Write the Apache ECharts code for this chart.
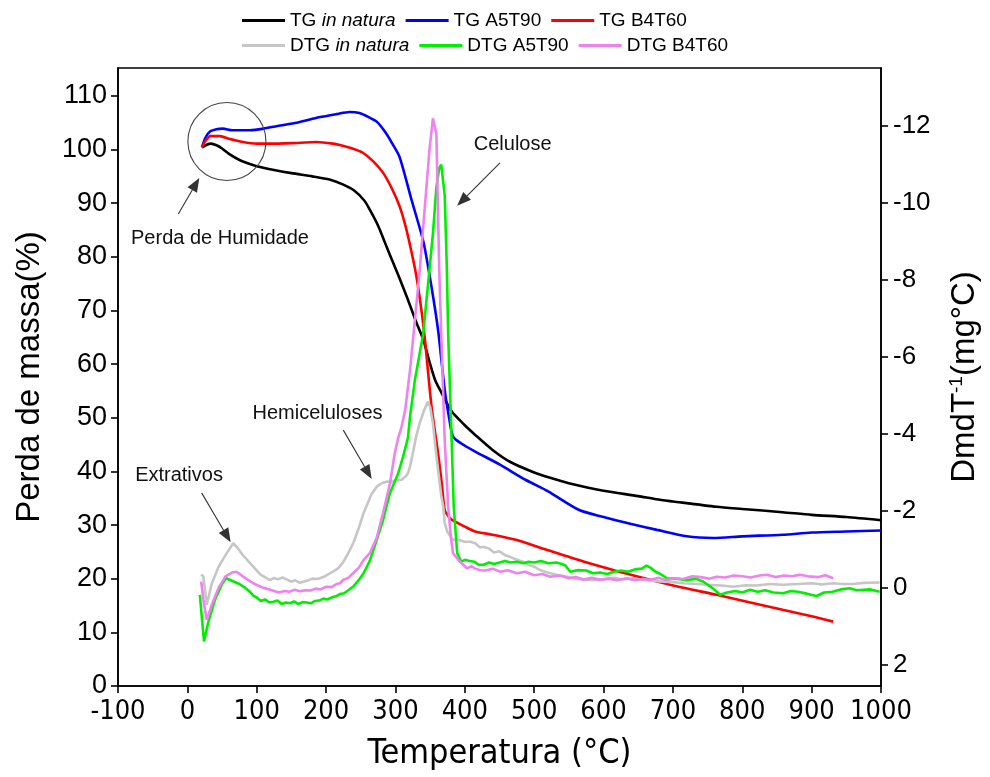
<!DOCTYPE html>
<html>
<head>
<meta charset="utf-8">
<script src="https://cdn.jsdelivr.net/npm/echarts@6/dist/echarts.min.js"></script>
<style>
  html, body { margin: 0; padding: 0; background: #fff; }
  #chart { width: 990px; height: 777px; }
</style>
</head>
<body>
<div id="chart"></div>
<script>
// Thermogravimetric (TG) and derivative (DTG) curves of the three samples.
const FONT = '"Liberation Sans", Arial, sans-serif';
const NARROW = '"Liberation Sans Narrow", "DejaVu Sans Condensed", "Liberation Sans", sans-serif';

const massTicks = [0, 10, 20, 30, 40, 50, 60, 70, 80, 90, 100, 110];
const dtgTicks = [-12, -10, -8, -6, -4, -2, 0, 2];

// TG curves: [temperature °C, mass %]
const tgInNatura = [[21,100.4],[28,100.9],[34,101.1],[42,100.8],[50,100.2],[60,99.2],[76,98.0],[90,97.3],[100,96.9],[125,96.2],[150,95.6],[180,95.0],[205,94.4],[224,93.5],[240,92.4],[255,90.5],[263,88.8],[275,85.8],[285,82.6],[295,79.4],[305,76.3],[318,72.0],[330,67.8],[340,64.6],[350,60.0],[357,57.1],[365,55.0],[381,51.2],[400,48.6],[415,46.8],[440,44.0],[465,41.8],[500,39.8],[523,38.8],[550,37.8],[600,36.4],[650,35.4],[676,34.8],[700,34.4],[763,33.4],[800,33.0],[858,32.4],[900,31.9],[950,31.5],[1000,30.9]];
const tgA5T90 = [[21,100.4],[26,102.2],[33,103.4],[42,103.8],[51,103.9],[65,103.6],[90,103.6],[110,103.9],[130,104.4],[158,105.0],[190,106.0],[215,106.6],[234,107.0],[248,106.8],[262,106.0],[273,105.2],[285,103.3],[295,101.2],[306,98.6],[323,90.7],[340,83.0],[347,78.2],[355,72.0],[362,65.8],[371,55.2],[378,49.5],[383,46.5],[395,45.2],[415,43.7],[450,41.3],[488,38.4],[520,36.3],[565,32.8],[600,31.5],[640,30.2],[677,29.1],[720,27.9],[758,27.6],[800,27.9],[858,28.2],[900,28.6],[950,28.8],[1000,29.0]];
const tgB4T60 = [[21,100.4],[26,101.6],[33,102.5],[47,102.5],[60,102.0],[80,101.4],[100,101.1],[119,101.1],[150,101.2],[186,101.4],[210,101.1],[224,100.7],[240,100.1],[253,99.4],[268,97.8],[282,95.7],[295,92.7],[306,89.4],[315,85.5],[323,81.0],[330,76.5],[338,69.5],[343,63.9],[352,52.1],[362,42.8],[367,37.5],[371,32.8],[376,31.7],[381,31.0],[400,29.7],[415,28.8],[440,28.2],[475,27.2],[520,25.3],[571,23.2],[620,21.4],[667,19.8],[715,18.3],[763,17.0],[810,15.6],[858,14.2],[900,13.0],[931,12.0]];

// DTG curves: [temperature °C, dm/dT]
const dtgInNatura = [[20,-0.35],[23,-0.29],[28,0.44],[35,-0.1],[45,-0.55],[55,-0.85],[66,-1.16],[72,-1.05],[80,-0.85],[95,-0.55],[105,-0.35],[119,-0.2],[125,-0.26],[130,-0.22],[137,-0.27],[143,-0.22],[150,-0.16],[155,-0.2],[162,-0.13],[167,-0.16],[175,-0.2],[180,-0.24],[188,-0.23],[196,-0.28],[203,-0.35],[210,-0.42],[218,-0.52],[225,-0.68],[232,-0.9],[240,-1.2],[247,-1.55],[254,-1.94],[260,-2.2],[265,-2.42],[273,-2.63],[280,-2.72],[287,-2.76],[295,-2.76],[300,-2.8],[309,-2.81],[315,-2.9],[318,-2.98],[321,-3.15],[325,-3.5],[330,-3.95],[335,-4.28],[341,-4.6],[347,-4.84],[350,-4.7],[354,-4.28],[358,-3.6],[362,-2.98],[366,-2.4],[369,-2.1],[371,-1.68],[375,-1.45],[383,-1.25],[390,-1.25],[400,-1.2],[408,-1.2],[415,-1.16],[422,-1.05],[427,-1.07],[435,-1.02],[442,-0.92],[450,-0.95],[458,-0.85],[466,-0.8],[475,-0.73],[484,-0.68],[492,-0.6],[500,-0.55],[510,-0.45],[523,-0.38],[535,-0.33],[550,-0.28],[560,-0.24],[571,-0.21],[585,-0.2],[600,-0.22],[615,-0.26],[628,-0.22],[643,-0.25],[660,-0.2],[680,-0.17],[700,-0.15],[715,-0.12],[735,-0.1],[750,-0.08],[770,-0.06],[787,-0.03],[805,-0.07],[820,-0.06],[840,-0.1],[859,-0.08],[880,-0.1],[900,-0.12],[915,-0.09],[931,-0.12],[945,-0.1],[960,-0.1],[975,-0.13],[998,-0.14]];
const dtgA5T90 = [[18,0.18],[21,0.8],[24,1.39],[30,0.9],[40,0.3],[50,-0.1],[56,-0.25],[65,-0.18],[75,-0.1],[82,-0.02],[90,0.1],[95,0.2],[100,0.25],[106,0.34],[112,0.3],[118,0.38],[124,0.36],[130,0.33],[136,0.42],[142,0.38],[148,0.4],[154,0.35],[160,0.42],[166,0.37],[172,0.38],[178,0.4],[184,0.34],[190,0.33],[196,0.28],[202,0.3],[208,0.25],[214,0.22],[220,0.16],[226,0.14],[232,0.06],[240,-0.05],[247,-0.2],[254,-0.38],[263,-0.7],[273,-1.25],[282,-1.75],[292,-2.46],[298,-2.72],[304,-2.98],[311,-3.41],[318,-3.9],[321,-4.45],[328,-5.4],[334,-6.0],[340,-6.6],[347,-7.9],[354,-9.2],[359,-10.4],[363,-10.9],[366,-11.0],[371,-10.2],[374,-8.35],[376,-6.6],[381,-3.84],[384,-2.11],[389,-0.9],[395,-0.68],[400,-0.73],[407,-0.7],[414,-0.68],[420,-0.6],[427,-0.6],[435,-0.66],[442,-0.62],[450,-0.66],[458,-0.7],[466,-0.66],[475,-0.68],[485,-0.64],[492,-0.68],[500,-0.66],[510,-0.7],[520,-0.64],[532,-0.66],[540,-0.62],[545,-0.58],[552,-0.42],[562,-0.46],[575,-0.45],[585,-0.38],[595,-0.4],[605,-0.36],[615,-0.42],[625,-0.45],[635,-0.42],[645,-0.48],[655,-0.5],[662,-0.58],[668,-0.52],[675,-0.42],[683,-0.35],[691,-0.25],[705,-0.24],[720,-0.2],[733,-0.24],[744,-0.16],[755,-0.02],[762,0.08],[768,0.18],[778,0.12],[790,0.08],[800,0.12],[811,0.05],[822,0.1],[833,0.06],[845,0.12],[859,0.14],[870,0.08],[880,0.1],[893,0.15],[907,0.21],[918,0.12],[930,0.1],[942,0.04],[955,0.01],[965,0.06],[975,0.05],[985,0.04],[998,0.1]];
const dtgB4T60 = [[20,-0.16],[23,0.3],[28,0.83],[35,0.45],[45,0.0],[55,-0.3],[65,-0.4],[71,-0.42],[80,-0.3],[88,-0.2],[95,-0.12],[102,-0.06],[110,0.0],[118,0.04],[125,0.08],[132,0.12],[140,0.08],[147,0.1],[155,0.05],[162,0.09],[170,0.06],[178,0.07],[185,0.02],[192,0.04],[200,-0.03],[208,-0.02],[215,-0.1],[220,-0.12],[225,-0.21],[232,-0.26],[240,-0.4],[247,-0.52],[254,-0.72],[263,-0.9],[273,-1.3],[282,-1.94],[292,-2.7],[299,-3.5],[304,-3.9],[309,-4.2],[314,-4.62],[321,-5.66],[328,-6.96],[335,-8.26],[342,-9.82],[349,-11.38],[354,-12.2],[359,-11.8],[361,-10.1],[363,-8.35],[366,-6.6],[371,-3.84],[376,-2.11],[380,-1.3],[383,-0.9],[392,-0.7],[403,-0.51],[410,-0.56],[415,-0.5],[422,-0.46],[430,-0.45],[440,-0.5],[451,-0.42],[462,-0.46],[475,-0.38],[487,-0.42],[500,-0.33],[512,-0.36],[523,-0.29],[537,-0.32],[550,-0.25],[560,-0.28],[571,-0.22],[583,-0.26],[595,-0.21],[607,-0.24],[620,-0.2],[633,-0.25],[645,-0.2],[657,-0.23],[667,-0.21],[680,-0.26],[690,-0.2],[703,-0.25],[715,-0.23],[728,-0.3],[740,-0.28],[752,-0.24],[763,-0.29],[775,-0.27],[788,-0.32],[800,-0.3],[812,-0.27],[825,-0.32],[835,-0.34],[848,-0.28],[860,-0.32],[872,-0.3],[883,-0.34],[895,-0.3],[910,-0.28],[920,-0.33],[931,-0.25]];

// Annotation anchors in [temperature, mass %]
const moistureCircle = [57, 101.5];
const notes = [
  { text: 'Perda de Humidade', at: [47, 83.5], from: [-13, 88.0], to: [17.2, 94.7] },
  { text: 'Celulose', at: [469, 100.9], from: [450.7, 97.5], to: [389, 89.5] },
  { text: 'Hemiceluloses', at: [187.6, 50.8], from: [224.8, 47.7], to: [265.7, 38.6] },
  { text: 'Extrativos', at: [-12, 39.3], from: [20.6, 36.0], to: [62.4, 26.8] }
];

const chart = echarts.init(document.getElementById('chart'), null, { renderer: 'canvas' });

function tgSeries(name, data, color) {
  return { name, type: 'line', data, yAxisIndex: 0, symbol: 'none', smooth: 0.25,
    lineStyle: { color, width: 2.6 }, itemStyle: { color }, z: 2 };
}
function dtgSeries(name, data, color) {
  return { name, type: 'line', data, yAxisIndex: 1, symbol: 'none', smooth: false,
    lineStyle: { color, width: 2.6 }, itemStyle: { color }, z: 3 };
}

// Two legend rows; the key is a short thick bar in each series colour
function legendRow(top, names) {
  return {
    orient: 'horizontal', left: 242, top, itemWidth: 43, itemHeight: 3, itemGap: 10,
    icon: 'rect', padding: 0, data: names,
    textStyle: { fontFamily: FONT, fontSize: 19, color: '#000',
      rich: { i: { fontFamily: FONT, fontSize: 19, fontStyle: 'italic', color: '#000' } } },
    formatter: (n) => n.replace('in natura', '{i|in natura}')
  };
}

const axisLineStyle = { color: '#000', width: 1.6 };

chart.setOption({
  animation: false,
  backgroundColor: '#fff',
  textStyle: { fontFamily: FONT },
  grid: { left: 118, right: 109, top: 68, bottom: 91, show: true, borderColor: '#000', borderWidth: 1.6 },
  legend: [
    legendRow(11, ['TG in natura', 'TG A5T90', 'TG B4T60']),
    legendRow(36, ['DTG in natura', 'DTG A5T90', 'DTG B4T60'])
  ],
  xAxis: {
    type: 'value', min: -100, max: 1000, interval: 100,
    name: 'Temperatura (°C)', nameLocation: 'middle', nameGap: 51,
    nameTextStyle: { fontFamily: NARROW, fontSize: 34, color: '#000' },
    axisLine: { show: true, onZero: false, lineStyle: axisLineStyle },
    axisTick: { show: true, length: 7, lineStyle: axisLineStyle },
    axisLabel: { fontFamily: NARROW, fontSize: 27, color: '#000', margin: 12, formatter: (v) => String(v) },
    splitLine: { show: false }
  },
  yAxis: [
    {
      type: 'value', min: 0, max: 115.2, position: 'left',
      name: 'Perda de massa(%)', nameLocation: 'middle', nameGap: 72,
      nameTextStyle: { fontFamily: FONT, fontSize: 33, color: '#000' },
      axisLine: { show: true, onZero: false, lineStyle: axisLineStyle },
      axisTick: { show: true, length: 7, lineStyle: axisLineStyle, customValues: massTicks },
      axisLabel: { fontFamily: FONT, fontSize: 27, color: '#000', margin: 11, customValues: massTicks },
      splitLine: { show: false }
    },
    {
      type: 'value', min: -13.51, max: 2.55, inverse: true, position: 'right',
      name: '{a|DmdT}{s|-1}{a|(mg°C)}', nameLocation: 'middle', nameGap: 66,
      nameTextStyle: { color: '#000',
        rich: { a: { fontFamily: FONT, fontSize: 33, color: '#000', lineHeight: 36 },
                s: { fontFamily: FONT, fontSize: 19, color: '#000', lineHeight: 36, verticalAlign: 'top', padding: [0, 0, 12, 0] } } },
      axisLine: { show: true, onZero: false, lineStyle: axisLineStyle },
      axisTick: { show: true, length: 7, lineStyle: axisLineStyle, customValues: dtgTicks },
      axisLabel: { fontFamily: FONT, fontSize: 26, color: '#000', margin: 12, customValues: dtgTicks },
      splitLine: { show: false }
    }
  ],
  series: [
    tgSeries('TG in natura', tgInNatura, '#000000'),
    tgSeries('TG A5T90', tgA5T90, '#0000ff'),
    tgSeries('TG B4T60', tgB4T60, '#ff0000'),
    dtgSeries('DTG in natura', dtgInNatura, '#c6c6c6'),
    dtgSeries('DTG A5T90', dtgA5T90, '#00ee00'),
    dtgSeries('DTG B4T60', dtgB4T60, '#ee82ee')
  ]
});

// Annotations placed from data coordinates on the mass axis
function toPx(p) { return chart.convertToPixel({ xAxisIndex: 0, yAxisIndex: 0 }, p); }
function arrow(from, to) {
  const a = toPx(from), b = toPx(to);
  const dx = b[0] - a[0], dy = b[1] - a[1];
  const len = Math.hypot(dx, dy), ux = dx / len, uy = dy / len;
  const hl = 14, hw = 5.5;
  const bx = b[0] - ux * hl, by = b[1] - uy * hl;
  return [
    { type: 'line', silent: true, z: 10, shape: { x1: a[0], y1: a[1], x2: bx, y2: by },
      style: { stroke: '#333', lineWidth: 1.1 } },
    { type: 'polygon', silent: true, z: 10,
      shape: { points: [[b[0], b[1]], [bx - uy * hw, by + ux * hw], [bx + uy * hw, by - ux * hw]] },
      style: { fill: '#333' } }
  ];
}
const c = toPx(moistureCircle);
const elements = [
  { type: 'circle', silent: true, z: 10, shape: { cx: c[0], cy: c[1], r: 39 },
    style: { fill: 'none', stroke: '#444', lineWidth: 1.1 } }
];
notes.forEach(n => {
  const p = toPx(n.at);
  elements.push({ type: 'text', silent: true, z: 10, x: p[0], y: p[1],
    style: { text: n.text, fill: '#111', font: '20px ' + FONT, align: 'center', verticalAlign: 'middle',
             textAlign: 'center', textVerticalAlign: 'middle' } });
  arrow(n.from, n.to).forEach(e => elements.push(e));
});
chart.setOption({ graphic: { elements } });
</script>
</body>
</html>
